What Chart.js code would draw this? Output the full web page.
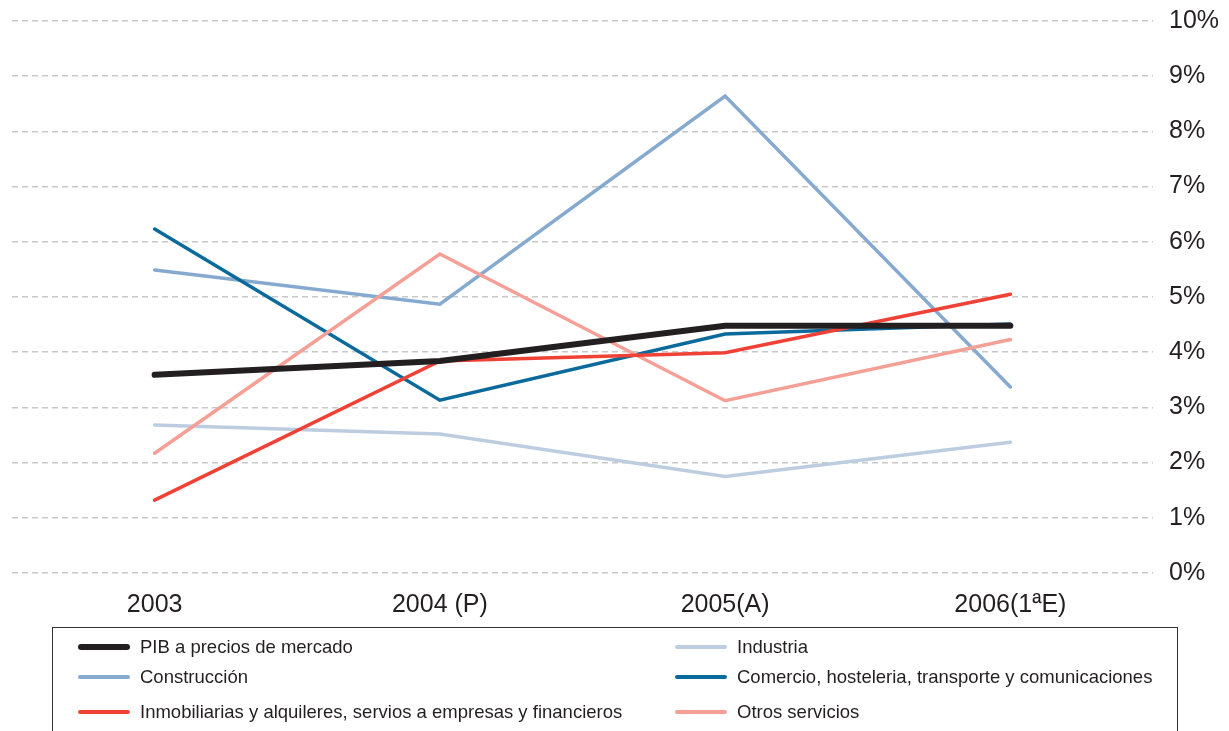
<!DOCTYPE html>
<html>
<head>
<meta charset="utf-8">
<script src="https://cdn.jsdelivr.net/npm/chart.js@4.4.0/dist/chart.umd.min.js"></script>
<style>
  body { margin: 0; background: #fff; font-family: "Liberation Sans", Arial, sans-serif; }
  #wrap { position: relative; width: 1229px; height: 643px; }
  #legend {
    position: absolute; left: 52px; top: 627px; width: 1126px; height: 120px;
    border: 1.5px solid #333; box-sizing: border-box;
  }
  .item { position: absolute; display: flex; align-items: center; font-size: 18.5px; color: #231f20; white-space: nowrap; }
  .swatch { width: 52px; border-radius: 3px; margin-right: 10px; }
</style>
</head>
<body>
<div id="wrap"><canvas id="growthChart"></canvas></div>
<div id="legend"></div>
<script>
const years = ['2003', '2004 (P)', '2005(A)', '2006(1ªE)'];
const yTicks = [0, 1, 2, 3, 4, 5, 6, 7, 8, 9, 10];

const pib = [3.59, 3.84, 4.48, 4.48];
const industria = [2.68, 2.52, 1.75, 2.37];
const construccion = [5.49, 4.87, 8.64, 3.37];
const comercio = [6.23, 3.13, 4.33, 4.51];
const inmobiliarias = [1.32, 3.84, 3.99, 5.05];
const otros = [2.17, 5.78, 3.12, 4.23];

const series = [
  { label: 'PIB a precios de mercado', data: pib, color: '#231f20', width: 6, col: 0, row: 0 },
  { label: 'Industria', data: industria, color: '#bccde0', width: 3.5, col: 1, row: 0 },
  { label: 'Construcción', data: construccion, color: '#86a9d0', width: 3.5, col: 0, row: 1 },
  { label: 'Comercio, hosteleria, transporte y comunicaciones', data: comercio, color: '#0b6a9c', width: 3.5, col: 1, row: 1 },
  { label: 'Inmobiliarias y alquileres, servios a empresas y financieros', data: inmobiliarias, color: '#ef4136', width: 3.5, col: 0, row: 2 },
  { label: 'Otros servicios', data: otros, color: '#f5a097', width: 3.5, col: 1, row: 2 }
];

// draw order: thin lines first, PIB on top
const drawOrder = [1, 2, 3, 5, 4, 0];

const ctx = document.getElementById('growthChart').getContext('2d');
new Chart(ctx, {
  type: 'line',
  data: {
    labels: years,
    datasets: series.map((s, i) => ({
      label: s.label,
      data: s.data,
      borderColor: s.color,
      backgroundColor: s.color,
      borderWidth: s.width,
      borderCapStyle: 'round',
      borderJoinStyle: 'miter',
      pointRadius: 0,
      tension: 0,
      order: drawOrder.length - drawOrder.indexOf(i)
    }))
  },
  options: {
    responsive: true,
    maintainAspectRatio: false,
    animation: false,
    layout: { padding: { left: 12, top: 2, right: 8, bottom: 14 } },
    plugins: { legend: { display: false }, tooltip: { enabled: false } },
    scales: {
      x: {
        offset: true,
        grid: { display: false },
        border: { display: false },
        ticks: { color: '#231f20', padding: 9, font: { family: '"Liberation Sans", Arial, sans-serif', size: 25 } }
      },
      y: {
        position: 'right',
        min: 0,
        max: 10,
        afterBuildTicks: axis => { axis.ticks = yTicks.map(v => ({ value: v })); },
        afterFit: axis => { axis.width = 68; axis.paddingTop = 21; axis.paddingBottom = 0; },
        grid: { color: '#c8c8c8', lineWidth: 1.5, drawTicks: false },
        border: { display: false, dash: [6, 4] },
        ticks: {
          color: '#231f20',
          padding: 16,
          font: { family: '"Liberation Sans", Arial, sans-serif', size: 25 },
          callback: v => v + '%'
        }
      }
    }
  }
});

const legend = document.getElementById('legend');
const colX = [25, 622];
const rowY = [19, 49, 84];
series.forEach(s => {
  const el = document.createElement('div');
  el.className = 'item';
  el.style.left = colX[s.col] + 'px';
  el.style.top = (rowY[s.row] - 11) + 'px';
  el.style.height = '22px';
  const sw = document.createElement('span');
  sw.className = 'swatch';
  sw.style.height = (s.width === 6 ? 6 : 4) + 'px';
  sw.style.background = s.color;
  el.appendChild(sw);
  el.appendChild(document.createTextNode(s.label));
  legend.appendChild(el);
});
</script>
</body>
</html>
